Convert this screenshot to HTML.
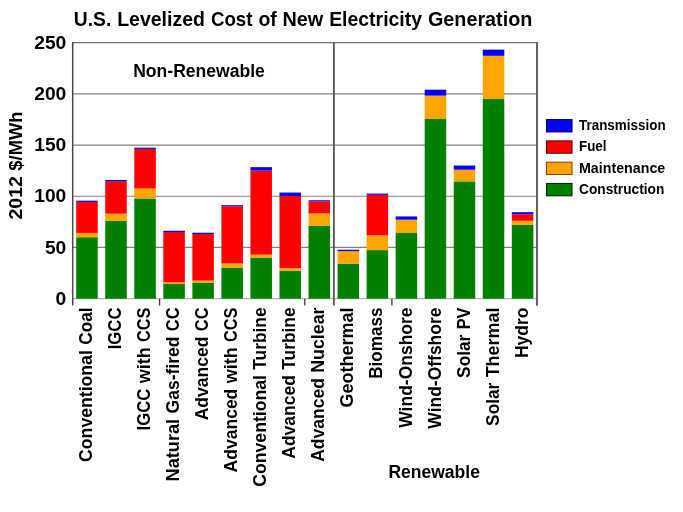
<!DOCTYPE html><html><head><meta charset="utf-8"><style>html,body{margin:0;padding:0;background:#fff;}svg{display:block;filter:blur(0.35px);}text{font-family:"Liberation Sans",sans-serif;}</style></head><body>
<svg width="683" height="512" viewBox="0 0 683 512">
<rect width="683" height="512" fill="#fff"/>
<line x1="72.7" x2="537.0" y1="247.47" y2="247.47" stroke="#808080" stroke-width="1.2"/>
<line x1="72.7" x2="537.0" y1="196.25" y2="196.25" stroke="#808080" stroke-width="1.2"/>
<line x1="72.7" x2="537.0" y1="145.03" y2="145.03" stroke="#808080" stroke-width="1.2"/>
<line x1="72.7" x2="537.0" y1="93.80" y2="93.80" stroke="#808080" stroke-width="1.2"/>
<line x1="72.7" x2="537.0" y1="298.70" y2="298.70" stroke="#a0a0a0" stroke-width="1.0"/>
<rect x="76.22" y="237.23" width="21.5" height="61.47" fill="#008000"/>
<rect x="76.22" y="232.93" width="21.5" height="4.30" fill="#ffa500"/>
<rect x="76.22" y="201.88" width="21.5" height="31.04" fill="#ff0000"/>
<rect x="76.22" y="200.66" width="21.5" height="1.23" fill="#0000ff"/>
<rect x="105.26" y="220.74" width="21.5" height="77.96" fill="#008000"/>
<rect x="105.26" y="213.67" width="21.5" height="7.07" fill="#ffa500"/>
<rect x="105.26" y="181.19" width="21.5" height="32.48" fill="#ff0000"/>
<rect x="105.26" y="179.96" width="21.5" height="1.23" fill="#0000ff"/>
<rect x="134.30" y="198.50" width="21.5" height="100.20" fill="#008000"/>
<rect x="134.30" y="188.46" width="21.5" height="10.04" fill="#ffa500"/>
<rect x="134.30" y="148.92" width="21.5" height="39.55" fill="#ff0000"/>
<rect x="134.30" y="147.69" width="21.5" height="1.23" fill="#0000ff"/>
<rect x="163.34" y="284.05" width="21.5" height="14.65" fill="#008000"/>
<rect x="163.34" y="282.31" width="21.5" height="1.74" fill="#ffa500"/>
<rect x="163.34" y="232.01" width="21.5" height="50.30" fill="#ff0000"/>
<rect x="163.34" y="230.78" width="21.5" height="1.23" fill="#0000ff"/>
<rect x="192.38" y="282.62" width="21.5" height="16.08" fill="#008000"/>
<rect x="192.38" y="280.57" width="21.5" height="2.05" fill="#ffa500"/>
<rect x="192.38" y="233.95" width="21.5" height="46.61" fill="#ff0000"/>
<rect x="192.38" y="232.72" width="21.5" height="1.23" fill="#0000ff"/>
<rect x="221.42" y="267.66" width="21.5" height="31.04" fill="#008000"/>
<rect x="221.42" y="263.35" width="21.5" height="4.30" fill="#ffa500"/>
<rect x="221.42" y="206.39" width="21.5" height="56.96" fill="#ff0000"/>
<rect x="221.42" y="205.16" width="21.5" height="1.23" fill="#0000ff"/>
<rect x="250.46" y="257.52" width="21.5" height="41.18" fill="#008000"/>
<rect x="250.46" y="254.65" width="21.5" height="2.87" fill="#ffa500"/>
<rect x="250.46" y="170.64" width="21.5" height="84.01" fill="#ff0000"/>
<rect x="250.46" y="167.15" width="21.5" height="3.48" fill="#0000ff"/>
<rect x="279.50" y="270.73" width="21.5" height="27.97" fill="#008000"/>
<rect x="279.50" y="268.07" width="21.5" height="2.66" fill="#ffa500"/>
<rect x="279.50" y="196.05" width="21.5" height="72.02" fill="#ff0000"/>
<rect x="279.50" y="192.56" width="21.5" height="3.48" fill="#0000ff"/>
<rect x="308.54" y="225.55" width="21.5" height="73.15" fill="#008000"/>
<rect x="308.54" y="213.46" width="21.5" height="12.09" fill="#ffa500"/>
<rect x="308.54" y="201.37" width="21.5" height="12.09" fill="#ff0000"/>
<rect x="308.54" y="200.25" width="21.5" height="1.13" fill="#0000ff"/>
<rect x="337.58" y="263.66" width="21.5" height="35.04" fill="#008000"/>
<rect x="337.58" y="251.16" width="21.5" height="12.50" fill="#ffa500"/>
<rect x="337.58" y="249.73" width="21.5" height="1.43" fill="#0000ff"/>
<rect x="366.62" y="250.14" width="21.5" height="48.56" fill="#008000"/>
<rect x="366.62" y="235.28" width="21.5" height="14.86" fill="#ffa500"/>
<rect x="366.62" y="194.82" width="21.5" height="40.47" fill="#ff0000"/>
<rect x="366.62" y="193.59" width="21.5" height="1.23" fill="#0000ff"/>
<rect x="395.66" y="233.03" width="21.5" height="65.67" fill="#008000"/>
<rect x="395.66" y="219.71" width="21.5" height="13.32" fill="#ffa500"/>
<rect x="395.66" y="216.43" width="21.5" height="3.28" fill="#0000ff"/>
<rect x="424.70" y="119.00" width="21.5" height="179.70" fill="#008000"/>
<rect x="424.70" y="95.64" width="21.5" height="23.36" fill="#ffa500"/>
<rect x="424.70" y="89.70" width="21.5" height="5.94" fill="#0000ff"/>
<rect x="453.74" y="181.39" width="21.5" height="117.31" fill="#008000"/>
<rect x="453.74" y="169.72" width="21.5" height="11.68" fill="#ffa500"/>
<rect x="453.74" y="165.51" width="21.5" height="4.20" fill="#0000ff"/>
<rect x="482.78" y="98.92" width="21.5" height="199.78" fill="#008000"/>
<rect x="482.78" y="55.79" width="21.5" height="43.13" fill="#ffa500"/>
<rect x="482.78" y="49.64" width="21.5" height="6.15" fill="#0000ff"/>
<rect x="511.82" y="224.94" width="21.5" height="73.76" fill="#008000"/>
<rect x="511.82" y="220.74" width="21.5" height="4.20" fill="#ffa500"/>
<rect x="511.82" y="214.18" width="21.5" height="6.56" fill="#ff0000"/>
<rect x="511.82" y="212.13" width="21.5" height="2.05" fill="#0000ff"/>
<line x1="72.7" x2="537.0" y1="42.57" y2="42.57" stroke="#707070" stroke-width="1.3"/>
<line x1="72.7" x2="72.7" y1="41.97" y2="305.5" stroke="#4a4a4a" stroke-width="1.5"/>
<line x1="537.0" x2="537.0" y1="41.97" y2="305.8" stroke="#66606e" stroke-width="2"/>
<line x1="333.9" x2="333.9" y1="42.57" y2="305.5" stroke="#555" stroke-width="1.8"/>
<line x1="159.57" x2="159.57" y1="298.70" y2="305.5" stroke="#3c3c48" stroke-width="1.3"/>
<line x1="304.77" x2="304.77" y1="298.70" y2="305.5" stroke="#3c3c48" stroke-width="1.3"/>
<line x1="391.89" x2="391.89" y1="298.70" y2="305.5" stroke="#3c3c48" stroke-width="1.3"/>
<text x="55.62" y="304.80" font-size="17.81" font-weight="bold" textLength="10.69" lengthAdjust="spacingAndGlyphs" fill="#000" >0</text>
<text x="44.93" y="253.57" font-size="17.81" font-weight="bold" textLength="21.38" lengthAdjust="spacingAndGlyphs" fill="#000" >50</text>
<text x="34.23" y="202.35" font-size="17.81" font-weight="bold" textLength="32.08" lengthAdjust="spacingAndGlyphs" fill="#000" >100</text>
<text x="34.23" y="151.12" font-size="17.81" font-weight="bold" textLength="32.08" lengthAdjust="spacingAndGlyphs" fill="#000" >150</text>
<text x="34.23" y="99.90" font-size="17.81" font-weight="bold" textLength="32.08" lengthAdjust="spacingAndGlyphs" fill="#000" >200</text>
<text x="34.23" y="48.67" font-size="17.81" font-weight="bold" textLength="32.08" lengthAdjust="spacingAndGlyphs" fill="#000" >250</text>
<text x="73.80" y="25.90" font-size="19.82" font-weight="bold" textLength="37.44" lengthAdjust="spacingAndGlyphs" fill="#000" >U.S.</text>
<text x="117.19" y="25.90" font-size="19.82" font-weight="bold" textLength="87.75" lengthAdjust="spacingAndGlyphs" fill="#000" >Levelized</text>
<text x="210.90" y="25.90" font-size="19.82" font-weight="bold" textLength="41.58" lengthAdjust="spacingAndGlyphs" fill="#000" >Cost</text>
<text x="258.42" y="25.90" font-size="19.82" font-weight="bold" textLength="18.36" lengthAdjust="spacingAndGlyphs" fill="#000" >of</text>
<text x="282.39" y="25.90" font-size="19.82" font-weight="bold" textLength="40.75" lengthAdjust="spacingAndGlyphs" fill="#000" >New</text>
<text x="329.13" y="25.90" font-size="19.82" font-weight="bold" textLength="92.90" lengthAdjust="spacingAndGlyphs" fill="#000" >Electricity</text>
<text x="427.97" y="25.90" font-size="19.82" font-weight="bold" textLength="104.34" lengthAdjust="spacingAndGlyphs" fill="#000" >Generation</text>
<text x="133.20" y="77.00" font-size="17.81" font-weight="bold" textLength="131.70" lengthAdjust="spacingAndGlyphs" fill="#000" >Non-Renewable</text>
<text x="388.40" y="477.50" font-size="17.81" font-weight="bold" textLength="91.50" lengthAdjust="spacingAndGlyphs" fill="#000" >Renewable</text>
<text transform="translate(21.90,219.60) rotate(-90)" x="0" y="0" font-size="18.13" font-weight="bold" textLength="43.51" lengthAdjust="spacingAndGlyphs" fill="#000" >2012</text>
<text transform="translate(21.90,170.65) rotate(-90)" x="0" y="0" font-size="18.13" font-weight="bold" textLength="59.14" lengthAdjust="spacingAndGlyphs" fill="#000" >$/MWh</text>
<text transform="translate(92.07,461.90) rotate(-90)" x="0" y="0" font-size="17.97" font-weight="bold" textLength="111.71" lengthAdjust="spacingAndGlyphs" fill="#000" >Conventional</text>
<text transform="translate(92.07,344.79) rotate(-90)" x="0" y="0" font-size="17.97" font-weight="bold" textLength="37.31" lengthAdjust="spacingAndGlyphs" fill="#000" >Coal</text>
<text transform="translate(121.11,349.30) rotate(-90)" x="0" y="0" font-size="17.97" font-weight="bold" textLength="41.80" lengthAdjust="spacingAndGlyphs" fill="#000" >IGCC</text>
<text transform="translate(150.15,430.47) rotate(-90)" x="0" y="0" font-size="17.97" font-weight="bold" textLength="41.80" lengthAdjust="spacingAndGlyphs" fill="#000" >IGCC</text>
<text transform="translate(150.15,383.23) rotate(-90)" x="0" y="0" font-size="17.97" font-weight="bold" textLength="35.91" lengthAdjust="spacingAndGlyphs" fill="#000" >with</text>
<text transform="translate(150.15,341.93) rotate(-90)" x="0" y="0" font-size="17.97" font-weight="bold" textLength="34.43" lengthAdjust="spacingAndGlyphs" fill="#000" >CCS</text>
<text transform="translate(179.19,481.39) rotate(-90)" x="0" y="0" font-size="17.97" font-weight="bold" textLength="62.53" lengthAdjust="spacingAndGlyphs" fill="#000" >Natural</text>
<text transform="translate(179.19,413.48) rotate(-90)" x="0" y="0" font-size="17.97" font-weight="bold" textLength="76.94" lengthAdjust="spacingAndGlyphs" fill="#000" >Gas-fired</text>
<text transform="translate(179.19,331.16) rotate(-90)" x="0" y="0" font-size="17.97" font-weight="bold" textLength="23.68" lengthAdjust="spacingAndGlyphs" fill="#000" >CC</text>
<text transform="translate(208.23,420.29) rotate(-90)" x="0" y="0" font-size="17.97" font-weight="bold" textLength="83.72" lengthAdjust="spacingAndGlyphs" fill="#000" >Advanced</text>
<text transform="translate(208.23,331.17) rotate(-90)" x="0" y="0" font-size="17.97" font-weight="bold" textLength="23.68" lengthAdjust="spacingAndGlyphs" fill="#000" >CC</text>
<text transform="translate(237.27,472.39) rotate(-90)" x="0" y="0" font-size="17.97" font-weight="bold" textLength="83.72" lengthAdjust="spacingAndGlyphs" fill="#000" >Advanced</text>
<text transform="translate(237.27,383.22) rotate(-90)" x="0" y="0" font-size="17.97" font-weight="bold" textLength="35.91" lengthAdjust="spacingAndGlyphs" fill="#000" >with</text>
<text transform="translate(237.27,341.93) rotate(-90)" x="0" y="0" font-size="17.97" font-weight="bold" textLength="34.43" lengthAdjust="spacingAndGlyphs" fill="#000" >CCS</text>
<text transform="translate(266.31,486.73) rotate(-90)" x="0" y="0" font-size="17.97" font-weight="bold" textLength="111.71" lengthAdjust="spacingAndGlyphs" fill="#000" >Conventional</text>
<text transform="translate(266.31,369.68) rotate(-90)" x="0" y="0" font-size="17.97" font-weight="bold" textLength="62.19" lengthAdjust="spacingAndGlyphs" fill="#000" >Turbine</text>
<text transform="translate(295.35,458.74) rotate(-90)" x="0" y="0" font-size="17.97" font-weight="bold" textLength="83.72" lengthAdjust="spacingAndGlyphs" fill="#000" >Advanced</text>
<text transform="translate(295.35,369.68) rotate(-90)" x="0" y="0" font-size="17.97" font-weight="bold" textLength="62.19" lengthAdjust="spacingAndGlyphs" fill="#000" >Turbine</text>
<text transform="translate(324.39,461.86) rotate(-90)" x="0" y="0" font-size="17.97" font-weight="bold" textLength="83.72" lengthAdjust="spacingAndGlyphs" fill="#000" >Advanced</text>
<text transform="translate(324.39,372.75) rotate(-90)" x="0" y="0" font-size="17.97" font-weight="bold" textLength="65.27" lengthAdjust="spacingAndGlyphs" fill="#000" >Nuclear</text>
<text transform="translate(353.43,407.52) rotate(-90)" x="0" y="0" font-size="17.97" font-weight="bold" textLength="100.02" lengthAdjust="spacingAndGlyphs" fill="#000" >Geothermal</text>
<text transform="translate(382.47,378.77) rotate(-90)" x="0" y="0" font-size="17.97" font-weight="bold" textLength="71.28" lengthAdjust="spacingAndGlyphs" fill="#000" >Biomass</text>
<text transform="translate(411.51,427.74) rotate(-90)" x="0" y="0" font-size="17.97" font-weight="bold" textLength="120.25" lengthAdjust="spacingAndGlyphs" fill="#000" >Wind-Onshore</text>
<text transform="translate(440.55,428.68) rotate(-90)" x="0" y="0" font-size="17.97" font-weight="bold" textLength="121.17" lengthAdjust="spacingAndGlyphs" fill="#000" >Wind-Offshore</text>
<text transform="translate(469.59,377.89) rotate(-90)" x="0" y="0" font-size="17.97" font-weight="bold" textLength="43.21" lengthAdjust="spacingAndGlyphs" fill="#000" >Solar</text>
<text transform="translate(469.59,329.31) rotate(-90)" x="0" y="0" font-size="17.97" font-weight="bold" textLength="21.81" lengthAdjust="spacingAndGlyphs" fill="#000" >PV</text>
<text transform="translate(498.63,425.88) rotate(-90)" x="0" y="0" font-size="17.97" font-weight="bold" textLength="43.21" lengthAdjust="spacingAndGlyphs" fill="#000" >Solar</text>
<text transform="translate(498.63,377.35) rotate(-90)" x="0" y="0" font-size="17.97" font-weight="bold" textLength="69.85" lengthAdjust="spacingAndGlyphs" fill="#000" >Thermal</text>
<text transform="translate(527.67,358.01) rotate(-90)" x="0" y="0" font-size="17.97" font-weight="bold" textLength="50.51" lengthAdjust="spacingAndGlyphs" fill="#000" >Hydro</text>
<rect x="546.5" y="119.60" width="25.5" height="12.3" fill="#0000ff" stroke="#000070" stroke-width="1.1"/>
<text x="579.00" y="129.90" font-size="14.20" font-weight="bold" textLength="86.60" lengthAdjust="spacingAndGlyphs" fill="#000" >Transmission</text>
<rect x="546.5" y="140.90" width="25.5" height="12.3" fill="#ff0000" stroke="#700000" stroke-width="1.1"/>
<text x="579.00" y="151.20" font-size="14.20" font-weight="bold" textLength="27.43" lengthAdjust="spacingAndGlyphs" fill="#000" >Fuel</text>
<rect x="546.5" y="162.20" width="25.5" height="12.3" fill="#ffa500" stroke="#805000" stroke-width="1.1"/>
<text x="579.00" y="172.50" font-size="14.20" font-weight="bold" textLength="86.30" lengthAdjust="spacingAndGlyphs" fill="#000" >Maintenance</text>
<rect x="546.5" y="183.50" width="25.5" height="12.3" fill="#008000" stroke="#002a00" stroke-width="1.1"/>
<text x="579.00" y="193.80" font-size="14.20" font-weight="bold" textLength="85.31" lengthAdjust="spacingAndGlyphs" fill="#000" >Construction</text>
</svg></body></html>
